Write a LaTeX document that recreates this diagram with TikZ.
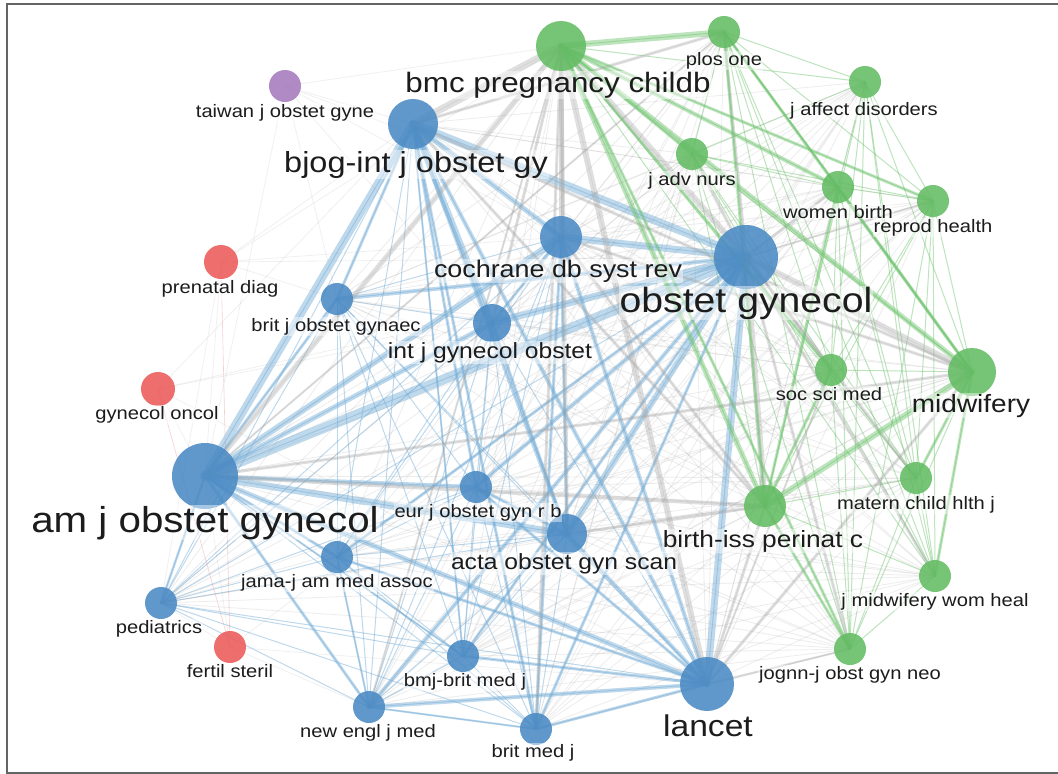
\documentclass[tikz,border=0pt]{standalone}
\usepackage{fontspec}
\setmainfont{Liberation Sans}
\usetikzlibrary{backgrounds}
\definecolor{nblue}{RGB}{74,138,196}
\definecolor{ngreen}{RGB}{100,188,100}
\definecolor{nred}{RGB}{236,90,90}
\definecolor{npurple}{RGB}{166,122,190}
\definecolor{eblue}{RGB}{115,172,214}
\definecolor{egreen}{RGB}{110,196,110}
\definecolor{egray}{RGB}{165,165,165}
\definecolor{ered}{RGB}{236,120,120}
\definecolor{lblc}{RGB}{28,28,28}
\definecolor{framec}{RGB}{100,100,100}
\newcommand\mylabel[5]{\node[labsty] (#1) at (#2,#3) {\fontsize{#4}{#4}\selectfont\scalebox{1.12}[1]{#5}};}
\newcommand\ed[4]{\draw[#4, line width=#3] (#1.center) -- (#2.center);}
\begin{document}
\begin{tikzpicture}[x=1pt,y=-1pt,
  vnode/.style={circle, inner sep=0pt, draw=none, fill opacity=0.88},
  bnode/.style={vnode, fill=nblue},
  gnode/.style={vnode, fill=ngreen},
  rnode/.style={vnode, fill=nred},
  pnode/.style={vnode, fill=npurple},
  labsty/.style={anchor=base, text=lblc, inner sep=1pt, fill=white, fill opacity=0.45, text opacity=1},
  be/.style={draw=eblue, draw opacity=0.45, line cap=round},
  ge/.style={draw=egreen, draw opacity=0.45, line cap=round},
  ye/.style={draw=egray, draw opacity=0.35, line cap=round},
  fe/.style={draw=egray, draw opacity=0.16},
  re/.style={draw=ered, draw opacity=0.35}]
\useasboundingbox (0,0) rectangle (1058,774);
% ---- nodes: blue cluster
\node[bnode, minimum size=50pt] (bjog) at (413,124) {};
\node[bnode, minimum size=42pt] (coch) at (561,237) {};
\node[bnode, minimum size=64pt] (obg) at (746,257) {};
\node[bnode, minimum size=32pt] (britj) at (337,299) {};
\node[bnode, minimum size=38pt] (ijgo) at (492,323) {};
\node[bnode, minimum size=66pt] (amj) at (205,476) {};
\node[bnode, minimum size=32pt] (eur) at (476,487) {};
\node[bnode, minimum size=40pt] (acta) at (567,534) {};
\node[bnode, minimum size=32pt] (jama) at (337,557) {};
\node[bnode, minimum size=32pt] (ped) at (161,603) {};
\node[bnode, minimum size=32pt] (bmj) at (463,656) {};
\node[bnode, minimum size=54pt] (lancet) at (707,684) {};
\node[bnode, minimum size=32pt] (nejm) at (369,707) {};
\node[bnode, minimum size=32pt] (bmjj) at (536,729) {};
% ---- green cluster
\node[gnode, minimum size=50pt] (bmc) at (561,46) {};
\node[gnode, minimum size=32pt] (plos) at (724,32) {};
\node[gnode, minimum size=32pt] (jaff) at (865,82) {};
\node[gnode, minimum size=32pt] (jadv) at (692,154) {};
\node[gnode, minimum size=32pt] (wb) at (838,187) {};
\node[gnode, minimum size=32pt] (rh) at (933,201) {};
\node[gnode, minimum size=32pt] (ssm) at (831,370) {};
\node[gnode, minimum size=48pt] (mid) at (972,372) {};
\node[gnode, minimum size=42pt] (birth) at (765,506) {};
\node[gnode, minimum size=32pt] (mat) at (916,478) {};
\node[gnode, minimum size=32pt] (jmw) at (935,576) {};
\node[gnode, minimum size=32pt] (jognn) at (850,649) {};
% ---- red and purple
\node[rnode, minimum size=34pt] (pren) at (221,262) {};
\node[rnode, minimum size=34pt] (gyo) at (158,389) {};
\node[rnode, minimum size=32pt] (fert) at (230,647) {};
\node[pnode, minimum size=32pt] (taiwan) at (285,86) {};
% ---- edges
\begin{scope}[on background layer]
\fill[white] (0,0) rectangle (1058,774);
\foreach \a [count=\i] in {bjog,coch,obg,britj,ijgo,amj,eur,acta,jama,ped,bmj,lancet,nejm,bmjj}{
  \foreach \b [count=\j] in {bjog,coch,obg,britj,ijgo,amj,eur,acta,jama,ped,bmj,lancet,nejm,bmjj}{
    \ifnum\j>\i \draw[be, line width=1pt] (\a.center) -- (\b.center); \fi
  }
}
\foreach \a [count=\i] in {bmc,plos,jaff,jadv,wb,rh,ssm,mid,birth,mat,jmw,jognn}{
  \foreach \b [count=\j] in {bmc,plos,jaff,jadv,wb,rh,ssm,mid,birth,mat,jmw,jognn}{
    \ifnum\j>\i \draw[ge, line width=1pt] (\a.center) -- (\b.center); \fi
  }
}
\foreach \a in {bjog,coch,obg,britj,ijgo,amj,eur,acta,jama,ped,bmj,lancet,nejm,bmjj}{
  \foreach \b in {bmc,plos,jaff,jadv,wb,rh,ssm,mid,birth,mat,jmw,jognn}{
    \draw[ye, line width=0.8pt, draw opacity=0.2] (\a.center) -- (\b.center);
  }
}
% faint links of small clusters
\foreach \a/\b in {pren/amj,pren/bjog,pren/obg,pren/britj,pren/coch,gyo/amj,gyo/obg,gyo/bjog,gyo/ijgo,
  fert/amj,fert/obg,fert/ped,fert/nejm,fert/lancet,taiwan/bjog,taiwan/obg,taiwan/amj,taiwan/bmc,
  taiwan/coch,taiwan/britj,taiwan/ijgo,pren/ped,gyo/lancet,pren/bmc}{
  \draw[fe, line width=0.8pt] (\a.center) -- (\b.center);
}
\ed{pren}{fert}{0.6pt}{re}
\ed{gyo}{fert}{0.6pt}{re}
% heavy blue links
\ed{amj}{obg}{10pt}{be}
\ed{amj}{bjog}{8pt}{be}
\ed{amj}{coch}{6pt}{be}
\ed{amj}{ijgo}{5pt}{be}
\ed{amj}{acta}{7pt}{be}
\ed{amj}{lancet}{5pt}{be}
\ed{amj}{eur}{4pt}{be}
\ed{amj}{nejm}{3pt}{be}
\ed{amj}{jama}{3pt}{be}
\ed{amj}{ped}{2.5pt}{be}
\ed{amj}{britj}{3pt}{be}
\ed{amj}{bmj}{2pt}{be}
\ed{bjog}{obg}{8pt}{be}
\ed{bjog}{ijgo}{6pt}{be}
\ed{bjog}{coch}{5pt}{be}
\ed{bjog}{acta}{4pt}{be}
\ed{bjog}{lancet}{4pt}{be}
\ed{bjog}{britj}{3pt}{be}
\ed{bjog}{eur}{3pt}{be}
\ed{bjog}{bmjj}{3pt}{be}
\ed{bjog}{bmj}{2pt}{be}
\ed{obg}{lancet}{7pt}{be}
\ed{obg}{coch}{7pt}{be}
\ed{obg}{ijgo}{7pt}{be}
\ed{obg}{acta}{6pt}{be}
\ed{obg}{britj}{4pt}{be}
\ed{obg}{eur}{4pt}{be}
\ed{obg}{nejm}{4pt}{be}
\ed{obg}{jama}{3pt}{be}
\ed{obg}{bmjj}{3pt}{be}
\ed{obg}{bmj}{3pt}{be}
\ed{coch}{lancet}{4pt}{be}
\ed{coch}{acta}{3pt}{be}
\ed{coch}{ijgo}{3pt}{be}
\ed{coch}{bmjj}{3pt}{be}
\ed{lancet}{acta}{4pt}{be}
\ed{lancet}{bmjj}{3pt}{be}
\ed{lancet}{nejm}{4pt}{be}
\ed{lancet}{bmj}{3pt}{be}
\ed{lancet}{jama}{3pt}{be}
\ed{lancet}{eur}{3pt}{be}
\ed{acta}{ijgo}{3pt}{be}
\ed{acta}{eur}{3pt}{be}
\ed{nejm}{bmjj}{2pt}{be}
\ed{jama}{nejm}{2pt}{be}
% heavy grey links
\ed{bmc}{bjog}{7pt}{ye}
\ed{bmc}{obg}{6pt}{ye}
\ed{bmc}{coch}{5pt}{ye}
\ed{bmc}{lancet}{6pt}{ye}
\ed{bmc}{amj}{5pt}{ye}
\ed{bmc}{acta}{4pt}{ye}
\ed{bmc}{ijgo}{3pt}{ye}
\ed{bmc}{bmjj}{3pt}{ye}
\ed{bmc}{nejm}{2pt}{ye}
\ed{obg}{mid}{6pt}{ye}
\ed{obg}{birth}{6pt}{ye}
\ed{obg}{ssm}{3pt}{ye}
\ed{obg}{jognn}{3pt}{ye}
\ed{obg}{jmw}{3pt}{ye}
\ed{obg}{mat}{3pt}{ye}
\ed{obg}{wb}{3pt}{ye}
\ed{obg}{rh}{2pt}{ye}
\ed{obg}{plos}{3pt}{ye}
\ed{obg}{jadv}{3pt}{ye}
\ed{lancet}{birth}{3pt}{ye}
\ed{lancet}{mid}{3pt}{ye}
\ed{lancet}{jognn}{2pt}{ye}
\ed{lancet}{ssm}{2pt}{ye}
\ed{amj}{birth}{4pt}{ye}
\ed{amj}{mid}{3pt}{ye}
\ed{amj}{plos}{2pt}{ye}
\ed{bjog}{birth}{3pt}{ye}
\ed{bjog}{mid}{3pt}{ye}
\ed{bjog}{plos}{3pt}{ye}
\ed{coch}{birth}{3pt}{ye}
\ed{coch}{mid}{3pt}{ye}
\ed{acta}{birth}{3pt}{ye}
% heavy green links
\ed{bmc}{plos}{6pt}{ge}
\ed{bmc}{mid}{5pt}{ge}
\ed{bmc}{birth}{5pt}{ge}
\ed{mid}{birth}{6pt}{ge}
\ed{bmc}{wb}{4pt}{ge}
\ed{bmc}{jadv}{3pt}{ge}
\ed{plos}{mid}{3pt}{ge}
\ed{bmc}{rh}{3pt}{ge}
\ed{bmc}{ssm}{3pt}{ge}
\ed{plos}{birth}{3pt}{ge}
\ed{bmc}{jognn}{3pt}{ge}
\ed{mid}{wb}{3pt}{ge}
\ed{mid}{jmw}{3pt}{ge}
\ed{mid}{mat}{3pt}{ge}
\ed{birth}{jognn}{3pt}{ge}
\ed{birth}{ssm}{3pt}{ge}
\ed{plos}{wb}{2pt}{ge}
\ed{birth}{wb}{3pt}{ge}
\end{scope}
% ---- frame
\draw[framec, line width=2pt] (6.5,4) rectangle (1075,773);
% ---- labels
\mylabel{taiwanL}{285}{117}{18}{taiwan j obstet gyne}
\mylabel{bjogL}{416}{172}{29}{bjog-int j obstet gy}
\mylabel{bmcL}{558}{92}{28}{bmc pregnancy childb}
\mylabel{plosL}{724}{65}{18}{plos one}
\mylabel{jaffL}{864}{115}{18}{j affect disorders}
\mylabel{jadvL}{692}{185}{18}{j adv nurs}
\mylabel{wbL}{838}{218}{18}{women birth}
\mylabel{rhL}{933}{232}{18}{reprod health}
\mylabel{cochL}{558}{277}{24}{cochrane db syst rev}
\mylabel{obgL}{746}{312}{35}{obstet gynecol}
\mylabel{prenL}{220}{293}{18}{prenatal diag}
\mylabel{britjL}{336}{331}{18}{brit j obstet gynaec}
\mylabel{ijgoL}{490}{358}{22}{int j gynecol obstet}
\mylabel{ssmL}{829}{400}{18}{soc sci med}
\mylabel{midL}{971}{412}{25}{midwifery}
\mylabel{gyoL}{157}{419}{18}{gynecol oncol}
\mylabel{amjL}{205}{532}{36}{am j obstet gynecol}
\mylabel{eurL}{478}{517}{18}{eur j obstet gyn r b}
\mylabel{birthL}{763}{547}{23.5}{birth-iss perinat c}
\mylabel{matL}{916}{509}{18}{matern child hlth j}
\mylabel{actaL}{564}{569}{22}{acta obstet gyn scan}
\mylabel{jamaL}{337}{587}{18}{jama-j am med assoc}
\mylabel{jmwL}{935}{606}{18}{j midwifery wom heal}
\mylabel{pedL}{159}{633}{18}{pediatrics}
\mylabel{fertL}{230}{677}{18}{fertil steril}
\mylabel{bmjL}{465}{686}{18}{bmj-brit med j}
\mylabel{jognnL}{850}{679}{18}{jognn-j obst gyn neo}
\mylabel{lancetL}{708}{736}{30}{lancet}
\mylabel{nejmL}{368}{737}{18}{new engl j med}
\mylabel{bmjjL}{533}{757}{18}{brit med j}
\end{tikzpicture}
\end{document}
